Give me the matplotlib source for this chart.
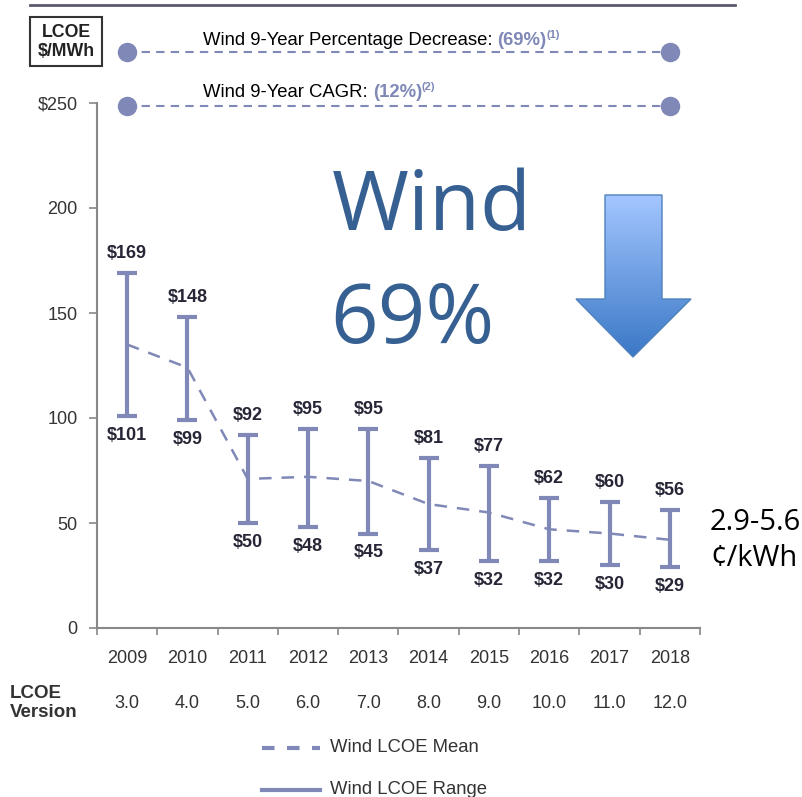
import numpy as np
import matplotlib
matplotlib.use('Agg')
import matplotlib.pyplot as plt
from matplotlib.patches import Polygon, Rectangle
from matplotlib.lines import Line2D

plt.rcParams['font.family'] = ['Liberation Sans', 'DejaVu Sans']

# data
years = [2009, 2010, 2011, 2012, 2013, 2014, 2015, 2016, 2017, 2018]
versions = ['3.0', '4.0', '5.0', '6.0', '7.0', '8.0', '9.0', '10.0', '11.0', '12.0']
lcoe_high = [169, 148, 92, 95, 95, 81, 77, 62, 60, 56]
lcoe_low = [101, 99, 50, 48, 45, 37, 32, 32, 30, 29]
lcoe_mean = [135, 124, 71, 72, 70, 59, 55, 47, 45, 42]
yticks = [0, 50, 100, 150, 200, 250]
ytick_labels = ['0', '50', '100', '150', '200', '$250']

col = '#7F88B6'
dark = '#262636'

fig = plt.figure(figsize=(8.03, 7.97), dpi=100)

# overlay in pixel coords for the decorations
ov = fig.add_axes([0, 0, 1, 1], zorder=0)
ov.set_xlim(0, 803)
ov.set_ylim(797, 0)
ov.axis('off')

ax = fig.add_axes([97 / 803, 1 - 628 / 797, 603 / 803, 525 / 797], zorder=1)
ax.patch.set_alpha(0)

yrs = np.array(years)
hi = np.array(lcoe_high)
lo = np.array(lcoe_low)
mu = np.array(lcoe_mean)

ax.plot(yrs, mu, color=col, lw=1.8, dashes=(5, 4), zorder=2)
ax.errorbar(yrs, mu, yerr=[mu - lo, hi - mu], fmt='none', ecolor=col,
            elinewidth=3, capsize=7, capthick=3, zorder=3)

for x, h, l in zip(years, lcoe_high, lcoe_low):
    ax.annotate('$%d' % h, (x, h), xytext=(0, 14), textcoords='offset points',
                ha='center', va='center', fontsize=13, fontweight='bold', color=dark)
    ax.annotate('$%d' % l, (x, l), xytext=(0, -14), textcoords='offset points',
                ha='center', va='center', fontsize=13, fontweight='bold', color=dark)

ax.set_xlim(2008.5, 2018.5)
ax.set_ylim(0, 250)
ax.set_yticks(yticks)
ax.set_yticklabels(ytick_labels)
ax.set_xticks(years)
ax.set_xticks(np.arange(2008.5, 2019, 1), minor=True)
ax.tick_params(axis='x', which='major', length=0, pad=16, labelsize=13, labelcolor='#333333')
ax.tick_params(axis='x', which='minor', length=5, width=1.2, color='#888888')
ax.tick_params(axis='y', length=6, width=1.2, color='#888888', labelsize=13,
               labelcolor='#333333', pad=8)
for s in ['top', 'right']:
    ax.spines[s].set_visible(False)
for s in ['left', 'bottom']:
    ax.spines[s].set_color('#888888')
    ax.spines[s].set_linewidth(1.5)

# LCOE version row
for x, v in zip(years, versions):
    ax.text(x, -0.143, v, transform=ax.get_xaxis_transform(), ha='center', va='center',
            fontsize=13, color='#333333')
ov.text(10, 703, 'LCOE\nVersion', ha='left', va='center', fontsize=13.5,
        fontweight='bold', color='#333333', linespacing=1.1)

# top rule and unit box
ov.plot([30, 735], [5, 5], color='#5A5A6E', lw=2)
ov.add_patch(Rectangle((30, 17), 72, 49, fill=False, edgecolor='#333333', lw=1.5))
ov.text(66, 42, 'LCOE\n$/MWh', ha='center', va='center', fontsize=12.8,
        fontweight='bold', color='#222222', linespacing=1.1)

# reference lines with dots
for yv in [274.5, 248.5]:
    ax.plot([years[0], years[-1]], [yv, yv], color=col, lw=1.5, dashes=(4, 3),
            clip_on=False, zorder=2)
    ax.plot([years[0], years[-1]], [yv, yv], 'o', color=col, ms=13, clip_on=False, zorder=3)


def chain(parts, x, y):
    r = fig.canvas.get_renderer()
    for txt, kw in parts:
        t = ov.text(x, y + kw.pop('dy', 0), txt, ha='left', va='baseline', **kw)
        bb = t.get_window_extent(renderer=r)
        x += bb.width


chain([('Wind 9-Year Percentage Decrease: ', dict(fontsize=13.3, color='black')),
       ('(69%)', dict(fontsize=13.3, color=col, fontweight='bold')),
       ('(1)', dict(fontsize=8, color=col, fontweight='bold', dy=-7))], 203, 45)
chain([('Wind 9-Year CAGR: ', dict(fontsize=13.3, color='black')),
       ('(12%)', dict(fontsize=13.3, color=col, fontweight='bold')),
       ('(2)', dict(fontsize=8, color=col, fontweight='bold', dy=-7))], 203, 97)

# big labels
ov.text(332, 230, 'Wind', fontsize=60, color='#366092', family='Open Sans',
        ha='left', va='baseline')
ov.text(330, 343, '69%', fontsize=60, color='#366092', family='Open Sans',
        ha='left', va='baseline')

# gradient arrow
arrow = Polygon([(605, 195), (662, 195), (662, 299), (691, 299), (633, 357),
                 (576, 299), (605, 299)], closed=True, facecolor='none',
                edgecolor='#4F81BD', lw=1, zorder=3)
ov.add_patch(arrow)
grad = np.linspace(0, 1, 256).reshape(-1, 1)
cmap = matplotlib.colors.LinearSegmentedColormap.from_list('ab', ['#A3C6FF', '#3B78C6'])
im = ov.imshow(grad, cmap=cmap, extent=(576, 691, 357, 195), aspect='auto', zorder=2)
im.set_clip_path(arrow)
ov.set_xlim(0, 803)
ov.set_ylim(797, 0)

# cents per kWh note
ov.text(710, 522, '2.9-5.6', fontsize=21, family='Open Sans', ha='left', va='center')
ov.text(710, 558, '\u00a2/kWh', fontsize=21, family='Open Sans', ha='left', va='center')

# legend
ov.add_line(Line2D([262, 320], [748, 748], color=col, lw=3, dashes=(3, 3)))
ov.text(330, 748, 'Wind LCOE Mean', fontsize=13.3, color='#333333', va='center')
ov.add_line(Line2D([262, 320], [790, 790], color=col, lw=3))
ov.text(330, 790, 'Wind LCOE Range', fontsize=13.3, color='#333333', va='center')

fig.savefig('out.png', dpi=100)
